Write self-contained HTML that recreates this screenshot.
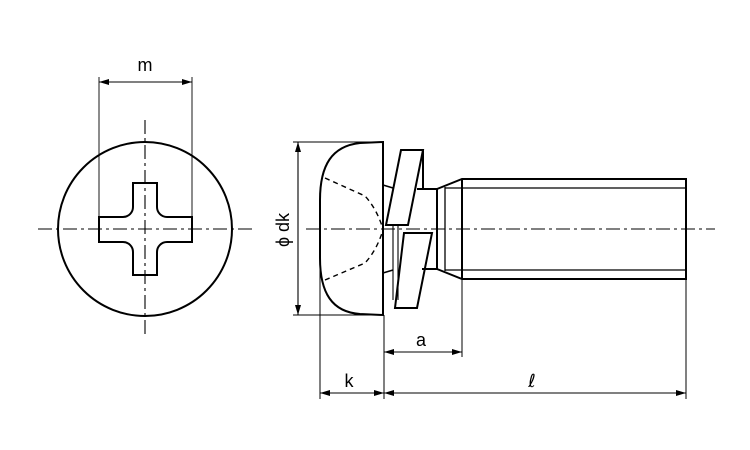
<!DOCTYPE html>
<html><head><style>body{margin:0;background:#fff}svg{display:block}</style></head><body>
<svg width="750" height="450" viewBox="0 0 750 450" xmlns="http://www.w3.org/2000/svg" font-family="Liberation Sans, sans-serif">
<defs>
<marker id="ar" viewBox="0 0 10 6" refX="10" refY="3" markerWidth="10" markerHeight="6" orient="auto-start-reverse" markerUnits="userSpaceOnUse"><path d="M0,0 L10,3 L0,6 Z" fill="#000"/></marker>
</defs>
<g fill="none" stroke="#000">
<circle cx="145" cy="229" r="87" stroke-width="2"/>
<path d="M133,183 H157 V207 A10,10 0 0 0 167,217 H192 V242 H167 A10,10 0 0 0 157,252 V275 H133 V252 A10,10 0 0 0 123,242 H99 V217 H123 A10,10 0 0 0 133,207 Z" stroke-width="2"/>
<line x1="38" y1="229" x2="256" y2="229" stroke-width="1.1" stroke-dasharray="14,4,3,4"/>
<line x1="145" y1="120" x2="145" y2="338" stroke-width="1.1" stroke-dasharray="14,4,3,4"/>
<line x1="99" y1="77" x2="99" y2="217" stroke-width="0.9"/>
<line x1="192" y1="77" x2="192" y2="217" stroke-width="0.9"/>
<line x1="99" y1="82" x2="192" y2="82" stroke-width="1.1" marker-start="url(#ar)" marker-end="url(#ar)"/>
<path d="M383,142 L360,143 C332,146 320,165 320,200 L320,258 C320,293 332,312 360,314 L383,315 Z" stroke-width="2"/>
<path d="M325,178 L365,196 Q376,208 382,226" stroke-width="1.4" stroke-dasharray="5,4"/>
<path d="M325,280 L365,263 Q376,251 382,233" stroke-width="1.4" stroke-dasharray="5,4"/>
<path d="M383,185 L393,188 M383,273 L393,270" stroke-width="1.5"/>
<path d="M401,150 H423 L408,225 H386 Z" stroke-width="2"/>
<path d="M404,233 H432 L417,308 H395 Z" stroke-width="2"/>
<line x1="423" y1="150" x2="423" y2="189" stroke-width="2"/>
<line x1="393" y1="226" x2="393" y2="300" stroke-width="1.1"/>
<line x1="398" y1="226" x2="398" y2="300" stroke-width="1.1"/>
<path d="M417,189 H437 V269 H422" stroke-width="2"/>
<path d="M437,189 L462,179 H686 V279 H462 L437,269" stroke-width="2"/>
<line x1="462" y1="179" x2="462" y2="279" stroke-width="2"/>
<line x1="445" y1="187" x2="445" y2="271" stroke-width="1.3"/>
<line x1="445" y1="188" x2="686" y2="188" stroke-width="1.3"/>
<line x1="445" y1="270" x2="686" y2="270" stroke-width="1.3"/>
<line x1="306" y1="229" x2="715" y2="229" stroke-width="1.1" stroke-dasharray="14,4,3,4"/>
<line x1="293" y1="142" x2="383" y2="142" stroke-width="1"/>
<line x1="293" y1="315" x2="383" y2="315" stroke-width="1"/>
<line x1="298" y1="142" x2="298" y2="315" stroke-width="1.1" marker-start="url(#ar)" marker-end="url(#ar)"/>
<line x1="320" y1="258" x2="320" y2="399" stroke-width="1"/>
<line x1="384" y1="315" x2="384" y2="399" stroke-width="1"/>
<line x1="462" y1="279" x2="462" y2="357" stroke-width="1"/>
<line x1="686" y1="279" x2="686" y2="399" stroke-width="1"/>
<line x1="384" y1="352" x2="462" y2="352" stroke-width="1.1" marker-start="url(#ar)" marker-end="url(#ar)"/>
<line x1="320" y1="393" x2="384" y2="393" stroke-width="1.1" marker-start="url(#ar)" marker-end="url(#ar)"/>
<line x1="384" y1="393" x2="686" y2="393" stroke-width="1.1" marker-start="url(#ar)" marker-end="url(#ar)"/>
</g>
<g font-size="18" fill="#000" text-anchor="middle">
<text x="145" y="71">m</text>
<text x="421" y="346">a</text>
<text x="349" y="387">k</text>
<text x="532" y="387" font-family="DejaVu Sans, sans-serif">ℓ</text>
<text transform="translate(289,230) rotate(-90)">ϕ dk</text>
</g>
</svg>
</body></html>
